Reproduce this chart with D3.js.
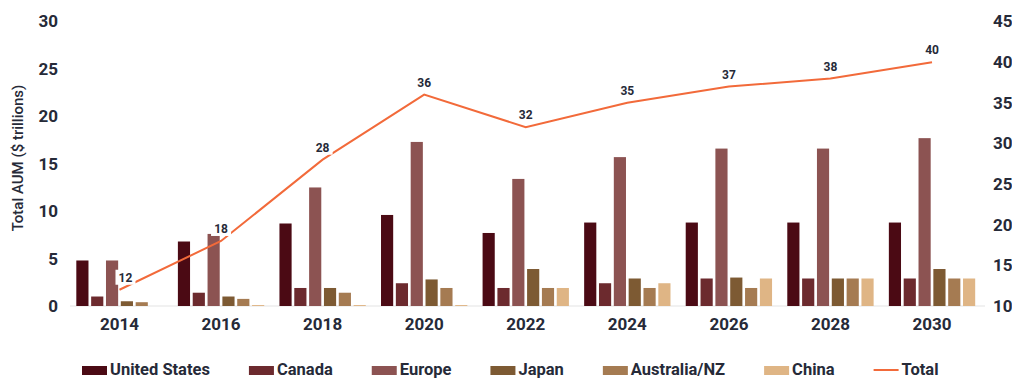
<!DOCTYPE html>
<html>
<head>
<meta charset="utf-8">
<script src="https://cdn.jsdelivr.net/npm/d3@7"></script>
<style>
  html, body { margin: 0; padding: 0; background: #ffffff; }
  svg { display: block; font-family: Roboto, "Noto Sans", sans-serif; }
</style>
</head>
<body>
<svg id="chart" width="1012" height="379"></svg>
<script>
// Assets under management by region, $ trillions (left axis), with total on right axis
const years = ["2014", "2016", "2018", "2020", "2022", "2024", "2026", "2028", "2030"];
const regions = ["United States", "Canada", "Europe", "Japan", "Australia/NZ", "China"];
const unitedStates = [4.8, 6.8, 8.7, 9.6, 7.7, 8.8, 8.8, 8.8, 8.8];
const canada       = [1.0, 1.4, 1.9, 2.4, 1.9, 2.4, 2.9, 2.9, 2.9];
const europe       = [4.8, 7.6, 12.5, 17.3, 13.4, 15.7, 16.6, 16.6, 17.7];
const japan        = [0.5, 1.0, 1.9, 2.8, 3.9, 2.9, 3.0, 2.9, 3.9];
const australiaNZ  = [0.4, 0.75, 1.4, 1.9, 1.9, 1.9, 1.9, 2.9, 2.9];
const china        = [0.0, 0.1, 0.1, 0.1, 1.9, 2.4, 2.9, 2.9, 2.9];
const total        = [12, 18, 28, 36, 32, 35, 37, 38, 40];
const leftTicks  = [0, 5, 10, 15, 20, 25, 30];
const rightTicks = [10, 15, 20, 25, 30, 35, 40, 45];

const regionValues = [unitedStates, canada, europe, japan, australiaNZ, china];
const colors = ["#4b0a14", "#6c2a2e", "#8c5352", "#7d5a33", "#a57b52", "#dfb585"];
const lineColor = "#f26a3a";
const textColor = "#262a38";

const svg = d3.select("#chart");

const plotTop = 21.5, plotBottom = 306;
const x0 = d3.scaleBand().domain(years).range([68.7, 982.8]).paddingInner(0.15).paddingOuter(0.075);
const x1 = d3.scaleBand().domain(regions).range([0, x0.bandwidth()]).paddingInner(0.18);
const yLeft = d3.scaleLinear().domain([0, 30]).range([plotBottom, plotTop]);
const yRight = d3.scaleLinear().domain([10, 45]).range([plotBottom, plotTop]);

// Left axis
const leftAxis = svg.append("g").attr("transform", "translate(58,0)")
  .call(d3.axisLeft(yLeft).tickValues(leftTicks).tickSize(0).tickPadding(0));
leftAxis.select(".domain").remove();
leftAxis.selectAll("text").attr("fill", textColor).attr("font-size", 17).attr("font-weight", 700)
  .attr("font-family", "Roboto, sans-serif");

// Right axis
const rightAxis = svg.append("g").attr("transform", "translate(993,0)")
  .call(d3.axisRight(yRight).tickValues(rightTicks).tickSize(0).tickPadding(0));
rightAxis.select(".domain").remove();
rightAxis.selectAll("text").attr("fill", textColor).attr("font-size", 17).attr("font-weight", 700)
  .attr("font-family", "Roboto, sans-serif");

// Axis title
svg.append("text")
  .attr("transform", "translate(23,158) rotate(-90)")
  .attr("text-anchor", "middle")
  .attr("fill", textColor)
  .attr("font-size", 15)
  .attr("font-weight", 500)
  .text("Total AUM ($ trillions)");

// Baseline
svg.append("line")
  .attr("x1", 70).attr("x2", 985)
  .attr("y1", yLeft(0)).attr("y2", yLeft(0))
  .attr("stroke", "#e3e3e3").attr("stroke-width", 1);

// Bars
const groups = svg.append("g").selectAll("g")
  .data(years)
  .join("g")
  .attr("transform", d => `translate(${x0(d)},0)`);

groups.selectAll("rect")
  .data((yr, i) => regions.map((r, k) => ({ region: r, value: regionValues[k][i], color: colors[k] })))
  .join("rect")
  .attr("x", d => x1(d.region))
  .attr("width", x1.bandwidth())
  .attr("y", d => yLeft(d.value))
  .attr("height", d => yLeft(0) - yLeft(d.value))
  .attr("fill", d => d.color);

// Year labels
const bottomAxis = svg.append("g").attr("transform", `translate(0,${plotBottom + 12})`)
  .call(d3.axisBottom(x0).tickSize(0).tickPadding(0));
bottomAxis.select(".domain").remove();
bottomAxis.selectAll("text").attr("fill", textColor).attr("font-size", 17).attr("font-weight", 700)
  .attr("font-family", "Roboto, sans-serif");

// Total line
const cx = yr => x0(yr) + x0.bandwidth() / 2;
const line = d3.line().x((d, i) => cx(years[i])).y(d => yRight(d));
svg.append("path")
  .datum(total)
  .attr("fill", "none")
  .attr("stroke", lineColor)
  .attr("stroke-width", 2)
  .attr("d", line);

// Value labels for total
const labels = svg.append("g").selectAll("g")
  .data(total)
  .join("g")
  .attr("transform", (d, i) => `translate(${cx(years[i]) + (i === 0 ? 6 : 0)},${yRight(d) - 12})`);
labels.append("rect")
  .attr("x", -10).attr("y", -8).attr("width", 20).attr("height", 15)
  .attr("fill", "#ffffff");
labels.append("text")
  .attr("text-anchor", "middle")
  .attr("dy", "0.35em")
  .attr("fill", textColor)
  .attr("font-size", 12)
  .attr("font-weight", 700)
  .text(d => d);

// Legend
const legendItems = regions.map((r, k) => ({ name: r, color: colors[k], type: "rect" }))
  .concat([{ name: "Total", color: lineColor, type: "line" }]);
const legend = svg.append("g").attr("transform", "translate(0,375)");
let lx = 82;
legendItems.forEach(item => {
  const g = legend.append("g").attr("transform", `translate(${lx},0)`);
  if (item.type === "rect") {
    g.append("rect").attr("x", 0).attr("y", -9).attr("width", 25).attr("height", 9).attr("fill", item.color);
  } else {
    g.append("line").attr("x1", 0).attr("x2", 25).attr("y1", -5).attr("y2", -5)
      .attr("stroke", item.color).attr("stroke-width", 2);
  }
  const t = g.append("text")
    .attr("x", 28)
    .attr("fill", textColor)
    .attr("font-size", 16.5)
    .attr("font-weight", 700)
    .text(item.name);
  lx += 28 + t.node().getComputedTextLength() + 39;
});
</script>
</body>
</html>
